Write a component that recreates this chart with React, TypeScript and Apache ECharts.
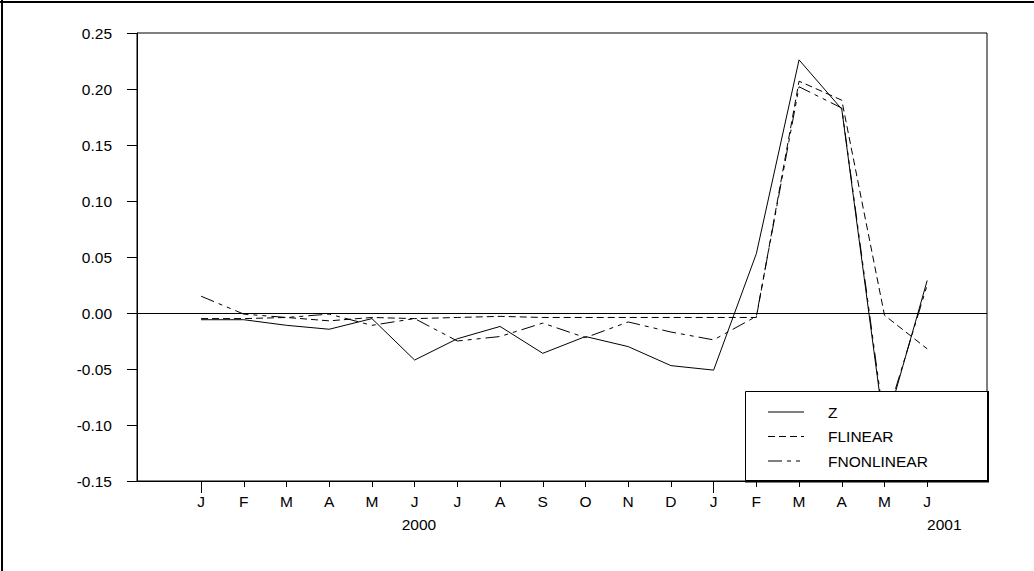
import { useEffect, useRef } from 'react';
import * as echarts from 'echarts';

const monthLabels = ['J', 'F', 'M', 'A', 'M', 'J', 'J', 'A', 'S', 'O', 'N', 'D', 'J', 'F', 'M', 'A', 'M', 'J'];
const monthIndex = monthLabels.map((_, i) => i);
const yearStartTicks = [0, 12];
const yearLabels = ['2000', '2001'];
const yearLabelPos = [5.1, 17.4];

const zValues = [-0.006, -0.006, -0.011, -0.0145, -0.005, -0.042, -0.023, -0.012, -0.036, -0.021, -0.030, -0.047, -0.051, 0.053, 0.226, 0.182, -0.105, 0.029];
const flinearValues = [-0.005, -0.005, -0.004, -0.007, -0.004, -0.005, -0.004, -0.003, -0.004, -0.004, -0.004, -0.004, -0.004, -0.004, 0.207, 0.190, -0.002, -0.032];
const fnonlinearValues = [0.015, -0.001, -0.004, -0.001, -0.011, -0.005, -0.025, -0.021, -0.009, -0.022, -0.008, -0.017, -0.024, -0.003, 0.202, 0.183, -0.100, 0.025];

const seriesNames = ['Z', 'FLINEAR', 'FNONLINEAR'];
const seriesDash: (string | number[])[] = ['solid', [7, 4], [14, 5, 4, 5, 4, 5]];
const seriesValues = [zValues, flinearValues, fnonlinearValues];

const FONT = 'Liberation Sans, Arial, sans-serif';
const FONT_SIZE = 15.5;

export default function App() {
  const ref = useRef<HTMLDivElement>(null);

  useEffect(() => {
    if (!ref.current) return;
    const chart = echarts.init(ref.current, undefined, { renderer: 'svg' });

    const xBase = { type: 'value', min: -1.5, max: 18.4, gridIndex: 0, position: 'bottom', splitLine: { show: false } };

    const legendItems: any[] = [];
    seriesNames.forEach((name, i) => {
      const cy = 412 + i * 24.5;
      legendItems.push({
        type: 'line',
        shape: { x1: 768, y1: cy, x2: 804, y2: cy },
        style: { stroke: '#000', lineWidth: 1, lineDash: seriesDash[i] === 'solid' ? null : seriesDash[i] },
        z: 101,
      });
      legendItems.push({
        type: 'text',
        x: 828,
        y: cy,
        style: { text: name, fill: '#000', font: `${FONT_SIZE}px ${FONT}`, verticalAlign: 'middle', align: 'left' },
        z: 101,
      });
    });

    chart.setOption({
      animation: false,
      backgroundColor: '#fff',
      grid: { left: 137, right: 47, top: 33, bottom: 90, show: true, borderColor: '#000', borderWidth: 1, containLabel: false },
      xAxis: [
        {
          ...xBase,
          axisLine: { show: true, onZero: false, lineStyle: { color: '#000', width: 1 } },
          axisTick: { show: true, customValues: monthIndex, length: 6, lineStyle: { color: '#000' } },
          axisLabel: {
            show: true,
            customValues: monthIndex,
            formatter: (v: number) => monthLabels[Math.round(v)] ?? '',
            margin: 12,
            fontSize: FONT_SIZE,
            fontFamily: FONT,
            color: '#000',
          },
        },
        {
          ...xBase,
          axisLine: { show: false, onZero: false },
          axisTick: { show: true, customValues: yearStartTicks, length: 12, lineStyle: { color: '#000' } },
          axisLabel: { show: false },
        },
        {
          ...xBase,
          axisLine: { show: false, onZero: false },
          axisTick: { show: false },
          axisLabel: {
            show: true,
            customValues: yearLabelPos,
            formatter: (v: number) => {
              const idx = yearLabelPos.findIndex((p) => Math.abs(p - v) < 1e-6);
              return idx >= 0 ? yearLabels[idx] : '';
            },
            margin: 35,
            fontSize: FONT_SIZE,
            fontFamily: FONT,
            color: '#000',
          },
        },
      ],
      yAxis: {
        type: 'value',
        min: -0.15,
        max: 0.25,
        interval: 0.05,
        axisLine: { show: true, onZero: false, lineStyle: { color: '#000', width: 1 } },
        axisTick: { show: true, length: 10, lineStyle: { color: '#000' } },
        axisLabel: {
          formatter: (v: number) => v.toFixed(2),
          margin: 25,
          fontSize: FONT_SIZE,
          fontFamily: FONT,
          color: '#000',
        },
        splitLine: { show: false },
      },
      series: seriesNames.map((name, i) => ({
        name,
        type: 'line',
        xAxisIndex: 0,
        data: monthIndex.map((m) => [m, seriesValues[i][m]]),
        showSymbol: false,
        symbol: 'none',
        lineStyle: { color: '#000', width: 1, type: seriesDash[i] },
        z: 3 + i,
        ...(i === 0
          ? {
              markLine: {
                silent: true,
                symbol: ['none', 'none'],
                label: { show: false },
                lineStyle: { color: '#000', type: 'solid', width: 1 },
                data: [{ yAxis: 0 }],
              },
            }
          : {}),
      })),
      graphic: [
        { type: 'line', shape: { x1: 2, y1: 0, x2: 2, y2: 571 }, style: { stroke: '#000', lineWidth: 2 }, z: 100 },
        { type: 'line', shape: { x1: 0, y1: 2, x2: 1034, y2: 2 }, style: { stroke: '#000', lineWidth: 2 }, z: 100 },
        {
          type: 'rect',
          shape: { x: 745.5, y: 391.5, width: 242, height: 89 },
          style: { fill: '#fff', stroke: '#000', lineWidth: 1 },
          z: 100,
        },
        { type: 'line', shape: { x1: 988, y1: 391, x2: 988, y2: 482 }, style: { stroke: '#000', lineWidth: 2 }, z: 101 },
        { type: 'line', shape: { x1: 745, y1: 481.5, x2: 989, y2: 481.5 }, style: { stroke: '#000', lineWidth: 2 }, z: 101 },
        ...legendItems,
      ],
    });

    return () => chart.dispose();
  }, []);

  return <div ref={ref} style={{ position: 'absolute', left: 0, top: 0, width: 1034, height: 571 }} />;
}
